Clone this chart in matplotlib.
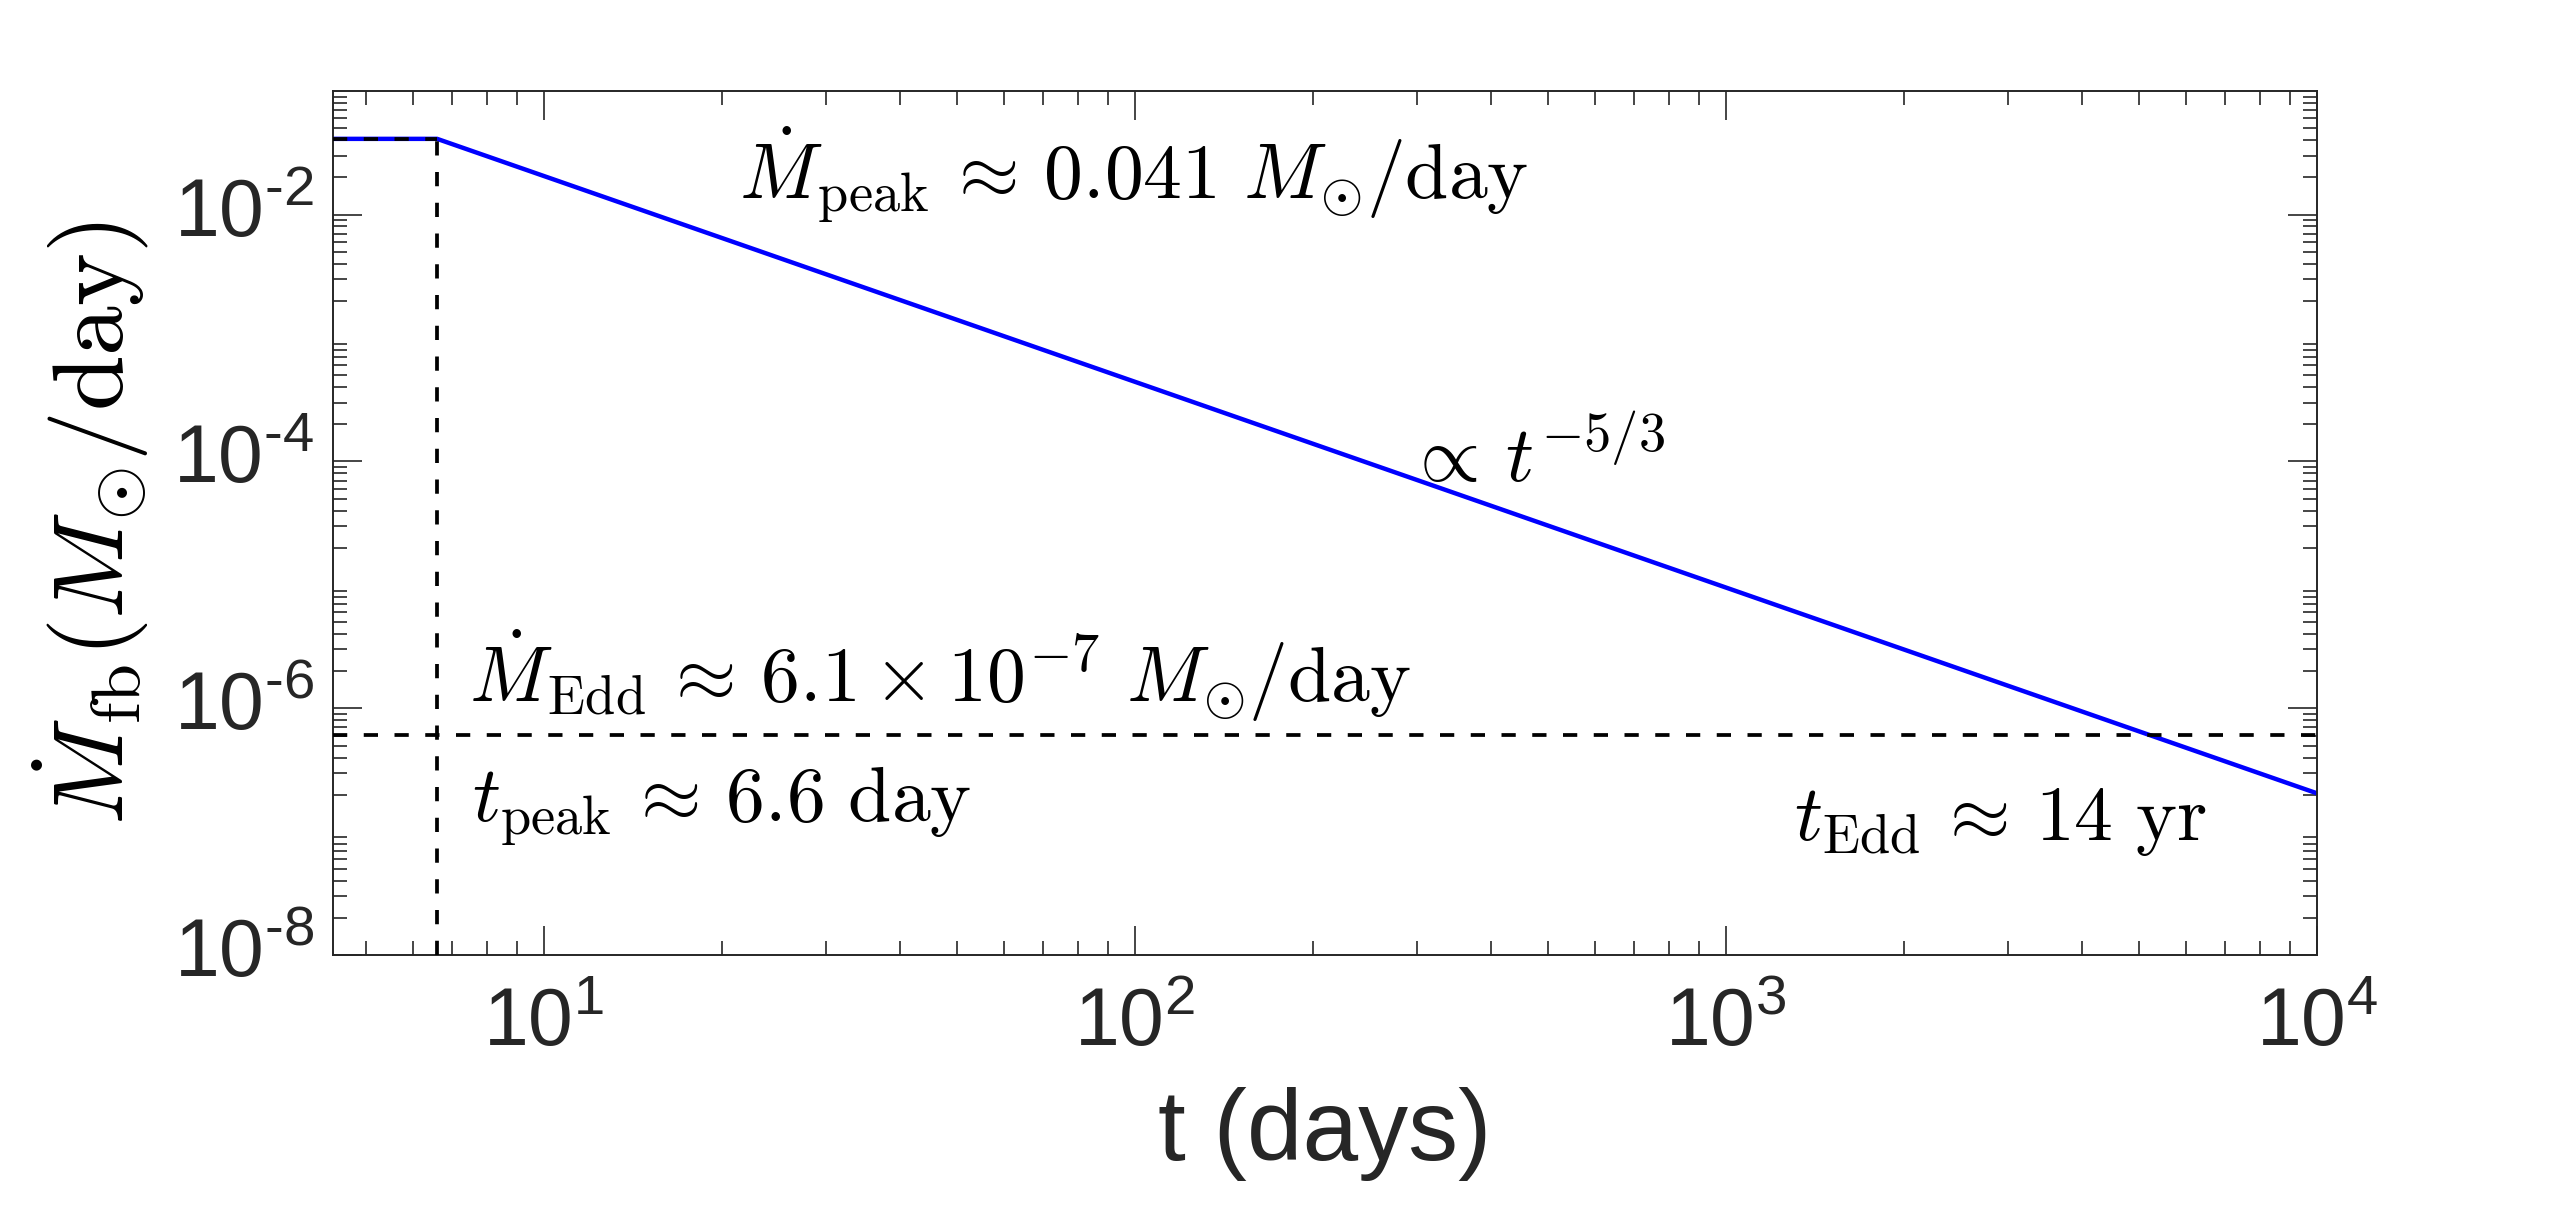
import matplotlib
matplotlib.use('Agg')
import matplotlib.pyplot as plt
from matplotlib.ticker import FixedLocator, LogLocator, NullFormatter, FuncFormatter
import numpy as np

# values
t_days = [4.4, 6.6, 1.0e4]          # flat part up to t_peak, then t^-5/3
mdot_fb = [0.041, 0.041, 2.05e-7]   # Msun/day
t_peak = 6.6
mdot_peak = 0.041
mdot_edd = 6.1e-7
t_edd_yr = 14
x_ticks = [1e1, 1e2, 1e3, 1e4]
y_ticks = [1e-8, 1e-6, 1e-4, 1e-2]
x_range = (4.4, 1e4)
y_range = (1e-8, 1e-1)

GREY = '#262626'

plt.rcParams['font.family'] = ['Liberation Sans', 'DejaVu Sans']
plt.rcParams['mathtext.fontset'] = 'custom'
plt.rcParams['mathtext.rm'] = 'Liberation Sans'
plt.rcParams['mathtext.it'] = 'Liberation Sans:italic'


def pow10_label(v, pos):
    e = int(round(np.log10(v)))
    s = str(e).replace('-', '\u2010')
    return r'$\mathrm{10^{%s}}$' % s


def main():
    fig = plt.figure(figsize=(12.8, 6.07), dpi=200)
    ax = fig.add_axes([0.1301, 0.2131, 0.775, 0.7119])

    ax.plot(t_days, mdot_fb, color=(0, 0, 1), lw=1.6, solid_capstyle='butt', zorder=2)

    lw_d = 1.35
    dash = (0, (3.8, 4.4))
    ax.plot([t_days[0], t_peak], [mdot_peak, mdot_peak], color='k', lw=lw_d, ls=dash, zorder=3)
    ax.vlines(t_peak, y_range[0], mdot_peak, color='k', lw=lw_d, linestyles=[dash], zorder=3)
    ax.axhline(mdot_edd, color='k', lw=lw_d, ls=dash, zorder=3)

    ax.set_xscale('log')
    ax.set_yscale('log')
    ax.set_xlim(*x_range)
    ax.set_ylim(*y_range)

    ax.xaxis.set_major_locator(FixedLocator(x_ticks))
    ax.yaxis.set_major_locator(FixedLocator(y_ticks))
    ax.xaxis.set_minor_locator(LogLocator(base=10, subs=range(2, 10), numticks=30))
    ax.yaxis.set_minor_locator(LogLocator(base=10, subs=range(2, 10), numticks=30))
    ax.xaxis.set_minor_formatter(NullFormatter())
    ax.yaxis.set_minor_formatter(NullFormatter())
    ax.xaxis.set_major_formatter(FuncFormatter(pow10_label))
    ax.yaxis.set_major_formatter(FuncFormatter(pow10_label))

    ax.tick_params(which='both', direction='in', top=True, right=True,
                   colors=GREY, width=0.6)
    ax.tick_params(which='major', length=10.4, labelsize=29)
    ax.tick_params(which='minor', length=5.2)
    ax.tick_params(axis='x', which='major', pad=11)
    ax.tick_params(axis='y', which='major', pad=7)
    for lbl in ax.get_yticklabels():
        lbl.set_verticalalignment('center')

    for sp in ax.spines.values():
        sp.set_linewidth(0.7)
        sp.set_color(GREY)

    msun = r'M_{\!\odot}\!'
    ax.set_xlabel('t (days)', fontsize=36, color=GREY, labelpad=9)
    ax.set_ylabel(r'$\dot{M}_{\rm fb}(%s/{\rm day})$' % msun, fontsize=36,
                  math_fontfamily='cm', labelpad=8)

    txt = dict(transform=ax.transAxes, fontsize=28, math_fontfamily='cm',
               va='baseline', ha='left', color='k')
    approx = r'\,\approx\,'
    ax.text(0.2046, 0.8739,
            r'$\dot{M}_{\rm peak}%s%.3f\ %s/{\rm day}$' % (approx, mdot_peak, msun), **txt)
    m, e = ('%.1e' % mdot_edd).split('e')
    ax.text(0.0685, 0.2930,
            r'$\dot{M}_{\rm Edd}%s%s \times 10^{%d}\ %s/{\rm day}$' % (approx, m, int(e), msun),
            **txt)
    ax.text(0.0701, 0.1542, r'$t_{\rm peak}%s%.1f\ {\rm day}$' % (approx, t_peak), **txt)
    ax.text(0.541, 0.5475, r'$\propto\,t^{-5/3}$', **txt)
    ax.text(0.7364, 0.1333, r'$t_{\rm Edd}%s%d\ {\rm yr}$' % (approx, t_edd_yr), **txt)

    fig.savefig('out.png', dpi=200)


if __name__ == '__main__':
    main()
